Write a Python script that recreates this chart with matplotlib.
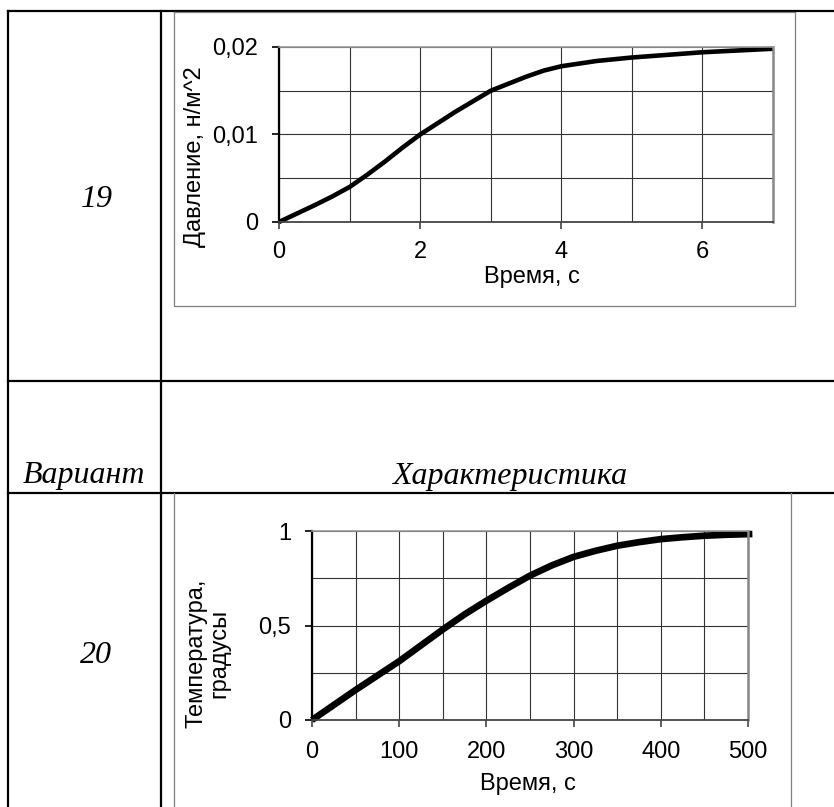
import matplotlib
matplotlib.use('Agg')
import matplotlib.pyplot as plt
from matplotlib.ticker import MultipleLocator

W, H = 834, 807

# chart 19: pressure vs time
t19 = [0, 0.5, 0.75, 1, 1.25, 1.5, 1.75, 2, 2.5, 3, 3.5, 3.75, 4, 4.25, 4.5, 5, 6, 7]
p19 = [0, 0.0019, 0.0029, 0.0040, 0.0054, 0.0069, 0.0085, 0.0100, 0.0126, 0.0150,
       0.0166, 0.0173, 0.0178, 0.0181, 0.0184, 0.0188, 0.0194, 0.0198]
xt19 = [0, 2, 4, 6]
yt19 = [0, 0.01, 0.02]
yl19 = ['0', '0,01', '0,02']

# chart 20: temperature vs time
t20 = [0, 50, 100, 150, 175, 200, 225, 250, 275, 300, 325, 350, 375, 400, 425, 450, 475, 505]
T20 = [0, 0.159, 0.311, 0.479, 0.559, 0.631, 0.699, 0.764, 0.818, 0.863, 0.895, 0.922,
       0.941, 0.957, 0.967, 0.975, 0.980, 0.984]
xt20 = [0, 100, 200, 300, 400, 500]
yt20 = [0, 0.5, 1]
yl20 = ['0', '0,5', '1']

sans = 'Liberation Sans'
serif = 'Liberation Serif'
FS = 17

fig = plt.figure(figsize=(W / 100, H / 100), dpi=100)

# background axes in pixel coords for the table
bg = fig.add_axes([0, 0, 1, 1])
bg.set_xlim(0, W)
bg.set_ylim(H, 0)
bg.axis('off')

tab = dict(color='black', lw=1.6)
bg.plot([8, W], [11, 11], **tab)
bg.plot([8, 8], [11, H], **tab)
bg.plot([161, 161], [11, H], **tab)
bg.plot([8, W], [381, 381], **tab)
bg.plot([8, W], [493, 493], **tab)

box = dict(color='#808080', lw=0.9)
bg.plot([174, 795, 795, 174, 174], [12, 12, 306, 306, 12], **box)
bg.plot([174, 174], [493, H], **box)
bg.plot([791, 791], [493, H], **box)

it = dict(family=serif, style='italic', fontsize=23, ha='center', va='baseline')
bg.text(97, 207, '19', **it)
bg.text(96, 663, '20', **it)
bg.text(84, 483, 'Вариант', **it)
bg.text(510, 484, 'Характеристика', **it)


def px_axes(l, t, r, b):
    return fig.add_axes([l / W, 1 - b / H, (r - l) / W, (b - t) / H])


def style(ax, xt, yt, yl, xminor, yminor, xpad):
    ax.set_xticks(xt)
    ax.set_xticklabels([str(v) for v in xt])
    ax.set_yticks(yt)
    ax.set_yticklabels(yl)
    ax.xaxis.set_minor_locator(MultipleLocator(xminor))
    ax.yaxis.set_minor_locator(MultipleLocator(yminor))
    ax.grid(True, which='both', color='#333333', lw=0.8)
    ax.tick_params(which='minor', length=0)
    ax.tick_params(which='major', direction='out', length=5, width=1.2,
                   labelsize=FS)
    ax.tick_params(axis='x', pad=xpad, color='#444444')
    ax.tick_params(axis='y', pad=10)
    for lab in ax.get_xticklabels() + ax.get_yticklabels():
        lab.set_family(sans)
    ax.spines['left'].set_color('black')
    ax.spines['left'].set_linewidth(1.6)
    ax.spines['bottom'].set_color('#444444')
    ax.spines['bottom'].set_linewidth(1.3)
    ax.spines['top'].set_color('#999999')
    ax.spines['top'].set_linewidth(1.2)
    ax.spines['right'].set_color('#888888')
    ax.spines['right'].set_linewidth(1.8)
    ax.set_axisbelow(True)


ax1 = px_axes(279, 47, 773, 222)
ax1.plot(t19, p19, color='black', lw=3.3, solid_capstyle='butt',
         solid_joinstyle='round', clip_on=False)
ax1.set_xlim(0, 7)
ax1.set_ylim(0, 0.02)
style(ax1, xt19, yt19, yl19, 1, 0.005, 9)
bg.text(532, 277, 'Время, с', family=sans, fontsize=FS, ha='center', va='center')
bg.text(195, 157, 'Давление, н/м^2', family=sans, fontsize=FS, ha='center',
        va='center', rotation=90)

ax2 = px_axes(312, 531, 748, 720)
ax2.plot(t20, T20, color='black', lw=4.8, solid_capstyle='butt',
         solid_joinstyle='round', clip_on=False)
ax2.set_xlim(0, 500)
ax2.set_ylim(0, 1)
style(ax2, xt20, yt20, yl20, 50, 0.25, 10)
bg.text(528, 784, 'Время, с', family=sans, fontsize=FS, ha='center', va='center')
bg.text(208, 653, 'Температура,\nградусы', family=sans, fontsize=FS, ha='center',
        va='center', rotation=90, linespacing=1.05)

fig.savefig('out.png', dpi=100)
